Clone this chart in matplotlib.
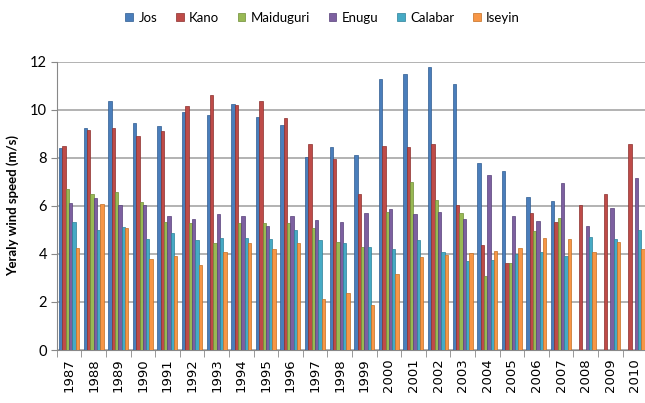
# Vitesse moyenne annuelle du vent dans six villes du Nigeria (1987-2010)
import matplotlib.pyplot as plt
import numpy as np

years = [str(y) for y in range(1987, 2011)]

# vitesses en m/s (0 = pas de mesure)
jos = [8.40, 9.24, 10.39, 9.47, 9.33, 9.90, 9.79, 10.24, 9.69, 9.38, 8.03, 8.44,
       8.13, 11.28, 11.50, 11.78, 11.07, 7.78, 7.46, 6.39, 6.21, 0, 0, 0]
kano = [8.50, 9.17, 9.26, 8.93, 9.10, 10.17, 10.63, 10.21, 10.39, 9.68, 8.58, 7.94,
        6.50, 8.50, 8.47, 8.57, 6.04, 4.38, 3.64, 5.69, 5.35, 6.04, 6.50, 8.57]
maiduguri = [6.69, 6.49, 6.60, 6.15, 5.35, 5.30, 4.47, 5.28, 5.31, 5.31, 5.10, 4.49,
             4.31, 5.76, 6.99, 6.25, 5.72, 3.08, 3.64, 4.96, 5.49, 0, 0, 0]
enugu = [6.11, 6.35, 6.04, 6.05, 5.56, 5.46, 5.65, 5.56, 5.18, 5.60, 5.42, 5.35,
         5.72, 5.88, 5.67, 5.74, 5.44, 7.29, 5.58, 5.38, 6.94, 5.18, 5.90, 7.18]
calabar = [5.33, 5.00, 5.11, 4.63, 4.86, 4.58, 4.65, 4.68, 4.63, 5.00, 4.58, 4.47,
           4.28, 4.19, 4.58, 4.07, 3.71, 3.75, 3.99, 4.10, 3.92, 4.69, 4.63, 5.00]
iseyin = [4.26, 6.07, 5.07, 3.78, 3.92, 3.54, 4.07, 4.47, 4.21, 4.44, 2.12, 2.38,
          1.88, 3.15, 3.86, 3.96, 4.03, 4.14, 4.24, 4.68, 4.61, 4.07, 4.49, 4.21]

villes = ["Jos", "Kano", "Maiduguri", "Enugu", "Calabar", "Iseyin"]
series = [jos, kano, maiduguri, enugu, calabar, iseyin]
couleurs = ["#4a7ebb", "#be4b48", "#98b954", "#7d60a0", "#46aac5", "#f79646"]
bords = ["#2f5c91", "#8c2f2d", "#6f8c35", "#574079", "#2b8099", "#c46f22"]

plt.rcParams['font.family'] = ['Lato', 'DejaVu Sans']

fig = plt.figure(figsize=(6.45, 4.03), dpi=100)
ax = fig.add_axes([0.088, 0.1315, 0.9153, 0.715])

x = np.arange(len(years))
w = 0.135
for i, (nom, val) in enumerate(zip(villes, series)):
    ax.bar(x - 2.5 * w + i * w, val, w, color=couleurs[i], edgecolor=bords[i],
           linewidth=0.5, label=nom, zorder=3)

ax.set_xlim(-0.5, len(years) - 0.5)
ax.set_ylim(0, 12)
ax.set_yticks(range(0, 13, 2))
ax.tick_params(axis='y', labelsize=10.5, length=4, color='#888888', pad=3)
ax.set_xticks(x)
ax.set_xticklabels(years, rotation=90, fontsize=9.5, family='DejaVu Sans')
ax.set_xticks(np.arange(-0.5, len(years), 1), minor=True)
ax.tick_params(axis='x', which='major', length=0, pad=6)
ax.tick_params(axis='x', which='minor', length=5, color='#888888')
ax.grid(axis='y', color='#a6a6a6', linewidth=1.2, zorder=0)
for s in ['top', 'right']:
    ax.spines[s].set_visible(False)
ax.spines['left'].set_color('#888888')
ax.spines['bottom'].set_color('#888888')
ax.set_ylabel("Yeraly wind speed (m/s)", fontsize=9.5, fontweight='bold', labelpad=8)

fig.legend(loc='upper center', bbox_to_anchor=(0.5, 1.0), ncol=6, frameon=False,
           fontsize=9.5, handlelength=0.6, handleheight=0.6, handletextpad=0.4,
           columnspacing=1.4)

fig.savefig("out.png", dpi=100)
